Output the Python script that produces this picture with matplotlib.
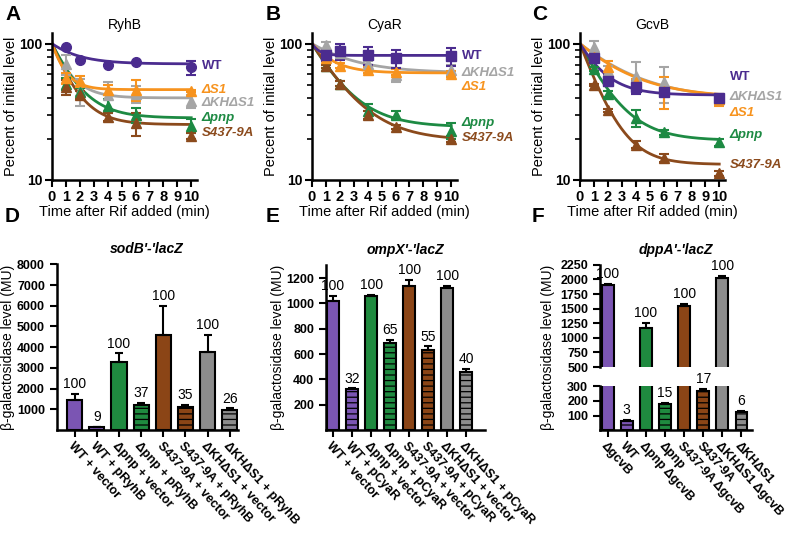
import numpy as np
import matplotlib
matplotlib.use('Agg')
import matplotlib.pyplot as plt
from matplotlib.transforms import blended_transform_factory

plt.rcParams['font.family'] = ['Liberation Sans', 'DejaVu Sans']
plt.rcParams['hatch.color'] = 'black'
plt.rcParams['hatch.linewidth'] = 0.9

# ---- decay data (percent of initial level) ----
times = [0, 1, 2, 4, 6, 10]
strains = ['WT', 'ΔS1', 'ΔKHΔS1', 'Δpnp', 'S437-9A']
line_colors = ['#4b2c8f', '#f7931e', '#a5a5a5', '#1d8a43', '#8b4a1c']

# RyhB
ryhb_wt = [100, 94, 76, 70, 73, 67]
ryhb_s1 = [100, 56, 53, 46, 46, 45]
ryhb_khs1 = [100, 71, 45, 42, 43, 38]
ryhb_pnp = [100, 51, 44, 35, 30, 25]
ryhb_s437 = [100, 48, 42, 29, 26, 21]
ryhb_wt_err = [0, 0, 0, 0, 0, 8]
ryhb_s1_err = [0, 5, 5, 4, 8, 1]
ryhb_khs1_err = [0, 12, 10, 10, 6, 4]
ryhb_pnp_err = [0, 5, 3, 4, 4, 3]
ryhb_s437_err = [0, 6, 3, 2, 5, 1]
ryhb_labels_y = [68, 46, 36.5, 28.5, 22.2]
# fitted one-phase decay (plateau, rate)
ryhb_plateau = [71, 46, 40, 28.5, 25.5]
ryhb_rate = [0.55, 1.2, 0.85, 0.65, 0.75]

# CyaR
cyar_wt = [100, 82, 88, 82, 78, 81]
cyar_s1 = [100, 78, 69, 64, 62, 60]
cyar_khs1 = [100, 97, 85, 71, 59, 64]
cyar_pnp = [100, 68, 51, 32, 30, 23]
cyar_s437 = [100, 68, 51, 30, 24.5, 20]
cyar_wt_err = [0, 8, 12, 12, 12, 12]
cyar_s1_err = [0, 3, 3, 3, 3, 3]
cyar_khs1_err = [0, 5, 8, 3, 7, 6]
cyar_pnp_err = [0, 2, 2, 4, 2, 3]
cyar_s437_err = [0, 2, 2, 2, 1, 1]
cyar_labels_y = [81.6, 47.7, 61.4, 26, 20.3]
cyar_plateau = [82, 61, 61, 24.5, 19.5]
cyar_rate = [2.0, 0.7, 0.35, 0.5, 0.45]

# GcvB
gcvb_wt = [100, 79, 53.5, 48, 44, 40]
gcvb_s1 = [100, 80, 67, 52, 45, 39]
gcvb_khs1 = [100, 94.5, 63, 58, 52, 39]
gcvb_pnp = [100, 65, 42.6, 28.6, 22.4, 18.9]
gcvb_s437 = [100, 50, 32.4, 18.2, 14.5, 11.2]
gcvb_wt_err = [0, 4, 5, 5, 3, 3]
gcvb_s1_err = [0, 4, 8, 3, 12, 4]
gcvb_khs1_err = [0, 10, 5, 15, 15, 3]
gcvb_pnp_err = [0, 2, 2, 4, 1, 1]
gcvb_s437_err = [0, 1, 1, 1, 1, 0.5]
gcvb_labels_y = [56.9, 30.8, 40.5, 21.2, 12.9]
gcvb_plateau = [42, 40, 39, 19.5, 13]
gcvb_rate = [0.65, 0.32, 0.3, 0.55, 0.7]

# ---- beta-galactosidase data ----
sodb_labels = ['WT + vector', 'WT + pRyhB', 'Δpnp + vector', 'Δpnp + pRyhB',
               'S437-9A + vector', 'S437-9A + pRyhB', 'ΔKHΔS1 + vector', 'ΔKHΔS1 + pRyhB']
sodb_values = [1440, 130, 3300, 1230, 4600, 1130, 3780, 980]
sodb_err = [310, 20, 400, 100, 1400, 100, 820, 70]
sodb_pct = ['100', '9', '100', '37', '100', '35', '100', '26']

ompx_labels = ['WT + vector', 'WT + pCyaR', 'Δpnp + vector', 'Δpnp + pCyaR',
               'S437-9A + vector', 'S437-9A + pCyaR', 'ΔKHΔS1 + vector', 'ΔKHΔS1 + pCyaR']
ompx_values = [1015, 325, 1060, 690, 1135, 630, 1125, 455]
ompx_err = [45, 5, 5, 20, 50, 30, 15, 30]
ompx_pct = ['100', '32', '100', '65', '100', '55', '100', '40']

dppa_labels = ['ΔgcvB', 'WT', 'Δpnp ΔgcvB', 'Δpnp', 'S437-9A ΔgcvB', 'S437-9A',
               'ΔKHΔS1 ΔgcvB', 'ΔKHΔS1']
dppa_values = [1900, 65, 1170, 180, 1550, 270, 2030, 125]
dppa_err = [30, 5, 90, 5, 30, 10, 25, 5]
dppa_pct = ['100', '3', '100', '15', '100', '17', '100', '6']

bar_colors = ['#7b55b3', '#7b55b3', '#1f8a3f', '#1f8a3f', '#8b4516', '#8b4516', '#8c8c8c', '#8c8c8c']
bar_hatch = [None, '---', None, '---', None, '---', None, '---']

fig = plt.figure(figsize=(8, 5.35), dpi=100)


def style_axes(ax, lw=1.8):
    for s in ['top', 'right']:
        ax.spines[s].set_visible(False)
    for s in ['left', 'bottom']:
        ax.spines[s].set_linewidth(lw)
    ax.tick_params(which='major', direction='out', width=1.5, length=5)
    ax.tick_params(which='minor', direction='out', width=1.2, length=3.5)


def decay_panel(rect, title, series, errs, labels_y, plateaus, rates, wt_marker):
    ax = fig.add_axes(rect)
    style_axes(ax)
    ax.set_yscale('log')
    ax.set_ylim(10, 120)
    ax.set_xlim(0, 10.4)
    ax.set_xticks(range(0, 11))
    ax.set_yticks([10, 100])
    ax.set_yticklabels(['10', '100'], fontweight='bold', fontsize=10)
    ax.set_xticklabels([str(i) for i in range(11)], fontweight='bold', fontsize=10.5)
    ax.yaxis.set_minor_formatter(plt.NullFormatter())
    ax.tick_params(axis='x', pad=2)
    ax.tick_params(axis='y', pad=2)
    ax.set_xlabel('Time after Rif added (min)', fontsize=10.5, labelpad=1)
    ax.set_ylabel('Percent of initial level', fontsize=10.5, labelpad=1)
    ax.set_title(title, fontsize=10, pad=3)
    tt = np.linspace(0, 10, 200)
    order = [2, 3, 4, 1, 0]
    for i in order:
        c = line_colors[i]
        m = wt_marker if i == 0 else '^'
        ax.errorbar(times[1:], series[i][1:], yerr=errs[i][1:], fmt=m, color=c,
                    ms=7, capsize=3.5, elinewidth=1.5, capthick=1.5, clip_on=False, zorder=3)
        ax.plot(tt, plateaus[i] + (100 - plateaus[i]) * np.exp(-rates[i] * tt), color=c, lw=2, zorder=2)
    trans = blended_transform_factory(ax.transData, ax.transData)
    for i, name in enumerate(strains):
        ax.text(10.75, labels_y[i], name, color=line_colors[i], fontsize=9.5, fontweight='bold',
                style='normal' if i == 0 else 'italic', va='center', ha='left',
                transform=trans, clip_on=False)
    return ax


decay_panel([0.065, 0.6636, 0.181, 0.275], 'RyhB',
            [ryhb_wt, ryhb_s1, ryhb_khs1, ryhb_pnp, ryhb_s437],
            [ryhb_wt_err, ryhb_s1_err, ryhb_khs1_err, ryhb_pnp_err, ryhb_s437_err],
            ryhb_labels_y, ryhb_plateau, ryhb_rate, 'o')
decay_panel([0.39, 0.6636, 0.181, 0.275], 'CyaR',
            [cyar_wt, cyar_s1, cyar_khs1, cyar_pnp, cyar_s437],
            [cyar_wt_err, cyar_s1_err, cyar_khs1_err, cyar_pnp_err, cyar_s437_err],
            cyar_labels_y, cyar_plateau, cyar_rate, 's')
decay_panel([0.725, 0.6636, 0.181, 0.275], 'GcvB',
            [gcvb_wt, gcvb_s1, gcvb_khs1, gcvb_pnp, gcvb_s437],
            [gcvb_wt_err, gcvb_s1_err, gcvb_khs1_err, gcvb_pnp_err, gcvb_s437_err],
            gcvb_labels_y, gcvb_plateau, gcvb_rate, 's')


def draw_bars(ax, values, err, width):
    x = np.arange(len(values))
    for i in range(len(values)):
        ax.bar(x[i], values[i], width=width, color=bar_colors[i], edgecolor='black',
               linewidth=1.5, hatch=bar_hatch[i], zorder=2)
    ax.errorbar(x, values, yerr=[np.zeros(len(err)), err], fmt='none', ecolor='black',
                elinewidth=1.5, capsize=3, capthick=1.5, zorder=3)


def bar_xticks(ax, labels):
    ax.set_xticks(np.arange(len(labels)))
    ax.set_xticklabels(labels, rotation=-48, ha='left', va='top', rotation_mode='anchor',
                       fontweight='bold', fontsize=9)
    ax.tick_params(axis='x', pad=2)


def annotate(ax, values, err, pct, idx=None):
    for i in (idx if idx is not None else range(len(values))):
        ax.annotate(pct[i], (i, values[i] + err[i]), xytext=(0, 2), textcoords='offset points',
                    ha='center', va='bottom', fontsize=10)


# D
axd = fig.add_axes([0.071, 0.196, 0.226, 0.310])
style_axes(axd)
draw_bars(axd, sodb_values, sodb_err, 0.68)
axd.set_xlim(-0.81, 7.36)
axd.set_ylim(0, 8000)
axd.set_yticks(range(1000, 8001, 1000))
axd.set_yticklabels([str(v) for v in range(1000, 8001, 1000)], fontweight='bold', fontsize=9)
bar_xticks(axd, sodb_labels)
annotate(axd, sodb_values, sodb_err, sodb_pct)
axd.set_ylabel('β-galactosidase level (MU)', fontsize=10, labelpad=1)
axd.set_title("sodB'-'lacZ", fontsize=10, fontweight='bold', style='italic', pad=8)

# E
axe = fig.add_axes([0.4075, 0.196, 0.199, 0.308])
style_axes(axe)
draw_bars(axe, ompx_values, ompx_err, 0.6)
axe.set_xlim(-0.37, 8.0)
axe.set_ylim(0, 1300)
axe.set_yticks(range(200, 1201, 200))
axe.set_yticklabels([str(v) for v in range(200, 1201, 200)], fontweight='bold', fontsize=9)
bar_xticks(axe, ompx_labels)
annotate(axe, ompx_values, ompx_err, ompx_pct)
axe.set_ylabel('β-galactosidase level (MU)', fontsize=10, labelpad=1)
axe.set_title("ompX'-'lacZ", fontsize=10, fontweight='bold', style='italic', pad=8)

# F (broken axis)
axf_top = fig.add_axes([0.75, 0.314, 0.19, 0.191])
axf_bot = fig.add_axes([0.75, 0.196, 0.19, 0.082])
for ax in (axf_top, axf_bot):
    style_axes(ax)
    draw_bars(ax, dppa_values, dppa_err, 0.62)
    ax.set_xlim(-0.4, 7.55)
axf_top.spines['bottom'].set_visible(False)
axf_top.tick_params(axis='x', bottom=False, labelbottom=False)
axf_top.set_ylim(500, 2250)
axf_top.set_yticks(range(500, 2251, 250))
axf_top.set_yticklabels([str(v) for v in range(500, 2251, 250)], fontweight='bold', fontsize=9)
axf_bot.set_ylim(0, 300)
axf_bot.set_yticks([100, 200, 300])
axf_bot.set_yticklabels(['100', '200', '300'], fontweight='bold', fontsize=9)
bar_xticks(axf_bot, dppa_labels)
annotate(axf_top, dppa_values, dppa_err, dppa_pct, [0, 2, 4, 6])
annotate(axf_bot, dppa_values, dppa_err, dppa_pct, [1, 3, 5, 7])
fig.text(0.685, 0.35, 'β-galactosidase level (MU)', rotation=90, fontsize=10, ha='center', va='center')
axf_top.set_title("dppA'-'lacZ", fontsize=10, fontweight='bold', style='italic', pad=8)

# panel letters
for letter, (x, y) in zip('ABCDEF', [(5, 15), (266, 15), (532, 15), (5, 217), (266, 217), (532, 217)]):
    fig.text(x / 800, 1 - y / 535, letter, fontsize=15, fontweight='bold', va='center', ha='left')

fig.savefig('out.png', dpi=100)
